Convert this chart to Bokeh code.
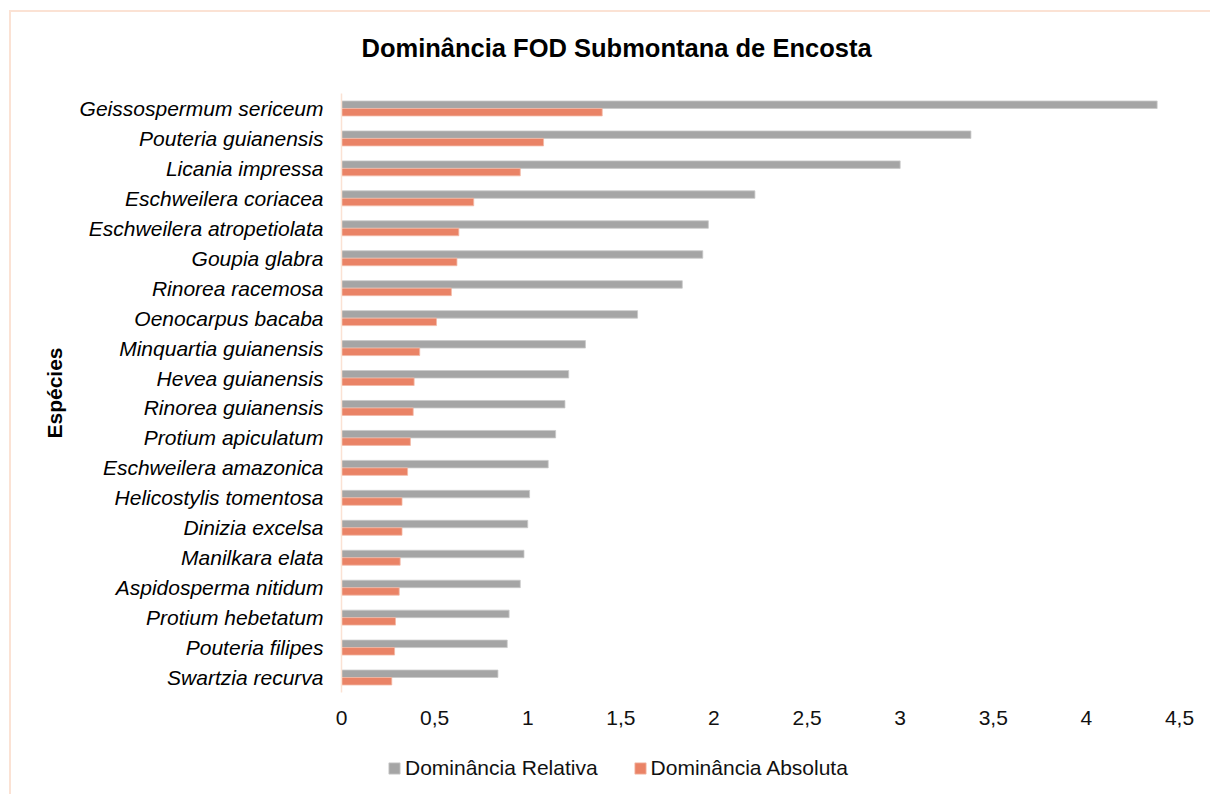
from bokeh.plotting import figure
from bokeh.layouts import column
from bokeh.models import (ColumnDataSource, FactorRange, FixedTicker, Legend,
                          LegendItem)
from bokeh.transform import dodge
from bokeh.embed import file_html
from bokeh.resources import INLINE

# Species ordered from highest to lowest dominance
species = [
    "Geissospermum sericeum",
    "Pouteria guianensis",
    "Licania impressa",
    "Eschweilera coriacea",
    "Eschweilera atropetiolata",
    "Goupia glabra",
    "Rinorea racemosa",
    "Oenocarpus bacaba",
    "Minquartia guianensis",
    "Hevea guianensis",
    "Rinorea guianensis",
    "Protium apiculatum",
    "Eschweilera amazonica",
    "Helicostylis tomentosa",
    "Dinizia excelsa",
    "Manilkara elata",
    "Aspidosperma nitidum",
    "Protium hebetatum",
    "Pouteria filipes",
    "Swartzia recurva",
]

dominancia_relativa = [4.38, 3.38, 3.00, 2.22, 1.97, 1.94, 1.83, 1.59, 1.31, 1.22,
                       1.20, 1.15, 1.11, 1.01, 1.00, 0.98, 0.96, 0.90, 0.89, 0.84]

dominancia_absoluta = [1.40, 1.085, 0.96, 0.71, 0.63, 0.62, 0.59, 0.51, 0.42, 0.39,
                       0.385, 0.37, 0.355, 0.325, 0.325, 0.315, 0.31, 0.29, 0.285, 0.27]

tick_values = [0, 0.5, 1, 1.5, 2, 2.5, 3, 3.5, 4, 4.5]
tick_labels = ["0", "0,5", "1", "1,5", "2", "2,5", "3", "3,5", "4", "4,5"]

series_names = ["Dominância Relativa", "Dominância Absoluta"]

FONT = "Liberation Sans"
GRAY = "#A5A5A5"
ORANGE = "#EA8366"
GRAY_EDGE = "#C9C9C9"
ORANGE_EDGE = "#F3B9A6"
PEACH = "#FBE2D4"

source = ColumnDataSource(dict(species=species,
                               relativa=dominancia_relativa,
                               absoluta=dominancia_absoluta))

# ---- main bar chart ----
p = figure(width=1210, height=740,
           y_range=FactorRange(factors=species[::-1], range_padding=0),
           x_range=(0, 4.5),
           output_backend="svg", toolbar_location=None,
           min_border_left=341, min_border_right=31,
           min_border_top=93, min_border_bottom=48)

p.background_fill_alpha = 0
p.border_fill_alpha = 0
p.outline_line_color = None
p.xgrid.visible = False
p.ygrid.visible = False

bar_style = [dict(fill_color=GRAY, line_color=GRAY_EDGE, line_width=0.8),
             dict(fill_color=ORANGE, line_color=ORANGE_EDGE, line_width=0.8)]

p.hbar(y=dodge("species", 0.125, range=p.y_range), left=0, right="relativa",
       height=0.25, source=source, **bar_style[0])
p.hbar(y=dodge("species", -0.125, range=p.y_range), left=0, right="absoluta",
       height=0.25, source=source, **bar_style[1])

# Title
p.title.text = "Dominância FOD Submontana de Encosta"
p.title.align = "left"
p.title.vertical_align = "middle"
p.title.offset = 20
p.title.standoff = 62
p.title.text_font = FONT
p.title.text_font_size = "25.5px"
p.title.text_font_style = "bold"
p.title.text_color = "#000000"

# X axis: values only, no line or ticks
xa = p.xaxis[0]
xa.ticker = FixedTicker(ticks=tick_values)
xa.major_label_overrides = {v: s for v, s in zip(tick_values, tick_labels)}
xa.axis_line_color = None
xa.major_tick_line_color = None
xa.minor_tick_line_color = None
xa.major_tick_out = 0
xa.major_label_standoff = 18
xa.major_label_text_font = FONT
xa.major_label_text_font_size = "21px"
xa.major_label_text_color = "#111111"

# Y axis: species names in italics
ya = p.yaxis[0]
ya.axis_line_color = PEACH
ya.axis_line_width = 1.5
ya.major_tick_line_color = None
ya.minor_tick_line_color = None
ya.major_tick_out = 0
ya.major_label_standoff = 18
ya.major_label_text_font = FONT
ya.major_label_text_font_size = "21px"
ya.major_label_text_font_style = "italic"
ya.major_label_text_color = "#000000"
ya.axis_label = "Espécies"
ya.axis_label_text_font = FONT
ya.axis_label_text_font_size = "21px"
ya.axis_label_text_font_style = "bold"
ya.axis_label_text_color = "#000000"
ya.axis_label_standoff = 11

# ---- legend strip below the chart ----
# The strip's y factors are the series names, so the species bars have no
# position here and only their legend swatches are drawn.
leg = figure(width=1210, height=54,
             x_range=(0, 4.5),
             y_range=FactorRange(factors=series_names),
             output_backend="svg", toolbar_location=None, min_border=0,
             x_axis_type=None, y_axis_type=None)
leg.background_fill_alpha = 0
leg.border_fill_alpha = 0
leg.outline_line_color = None
leg.grid.visible = False

k_rel = leg.hbar(y="species", left=0, right="relativa", height=0.25,
                 source=source, **bar_style[0])
k_abs = leg.hbar(y="species", left=0, right="absoluta", height=0.25,
                 source=source, **bar_style[1])

# Area swatches are inset by 10% of the glyph box, so a 14px box gives ~11px squares.
legend = Legend(items=[LegendItem(label=series_names[0], renderers=[k_rel]),
                       LegendItem(label=series_names[1], renderers=[k_abs])],
                orientation="horizontal", location=(46, 14),
                glyph_width=14, glyph_height=14, label_standoff=4, spacing=35,
                padding=0, margin=0, border_line_color=None,
                background_fill_alpha=0,
                label_text_font=FONT, label_text_font_size="21px",
                label_text_color="#111111")
leg.add_layout(legend, "center")

# Thin peach frame around the chart area: layered inset shadows on the
# page element, visible through the transparent canvases.
page = column(p, leg, spacing=0,
              styles={"background-color": "white",
                      "box-shadow": f"inset 9px 10px 0 0 white, inset 11px 12px 0 0 {PEACH}"})

open("out.html", "w").write(file_html(page, INLINE))
